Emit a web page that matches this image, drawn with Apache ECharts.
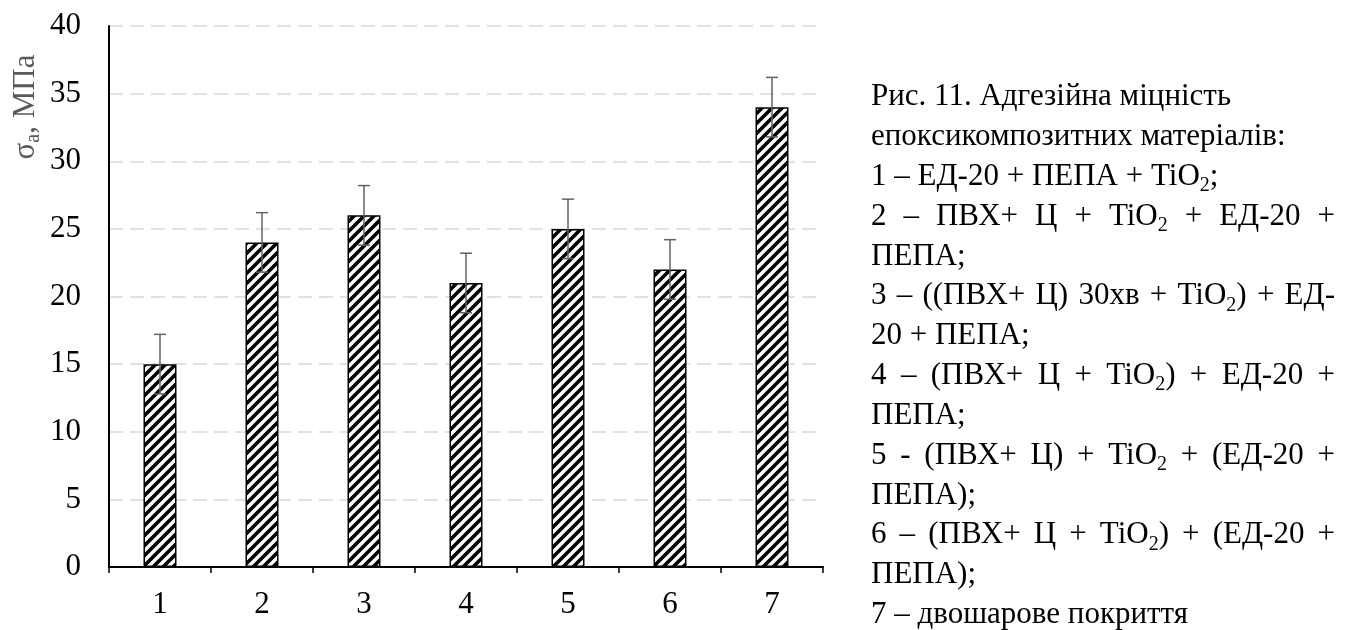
<!DOCTYPE html>
<html>
<head>
<meta charset="utf-8">
<script src="https://cdn.jsdelivr.net/npm/echarts@6/dist/echarts.min.js"></script>
<style>
  html, body { margin: 0; padding: 0; background: #fff; }
  #chart { width: 1350px; height: 630px; }
</style>
</head>
<body>
<div id="chart"></div>
<script>
// data
const categories = ['1', '2', '3', '4', '5', '6', '7'];
const strengthValues = [15, 24, 26, 21, 25, 22, 34];
const errorValues = [2.2, 2.2, 2.2, 2.2, 2.2, 2.2, 2.2];
const yMin = 0;
const yMax = 40;
const yStep = 5;

// caption lines, "_2" marks a subscript, true = justified line
const captionLines = [
    ['Рис. 11. Адгезійна міцність', false],
    ['епоксикомпозитних матеріалів:', false],
    ['1 – ЕД-20 + ПЕПА + TiO_2;', false],
    ['2 – ПВХ+ Ц + TiO_2 + ЕД-20 +', true],
    ['ПЕПА;', false],
    ['3 – ((ПВХ+ Ц) 30хв + TiO_2) + ЕД-', true],
    ['20 + ПЕПА;', false],
    ['4 – (ПВХ+ Ц + TiO_2) + ЕД-20 +', true],
    ['ПЕПА;', false],
    ['5 - (ПВХ+ Ц) + TiO_2 + (ЕД-20 +', true],
    ['ПЕПА);', false],
    ['6 – (ПВХ+ Ц + TiO_2) + (ЕД-20 +', true],
    ['ПЕПА);', false],
    ['7 – двошарове покриття', false]
];

const FONT = '"Liberation Serif", "Times New Roman", serif';

function makeHatch() {
    let c = document.createElement('canvas');
    let s = 10;
    c.width = s;
    c.height = s;
    let g = c.getContext('2d');
    g.fillStyle = '#ffffff';
    g.fillRect(0, 0, s, s);
    g.strokeStyle = '#000000';
    g.lineWidth = 3.6;
    g.beginPath();
    g.moveTo(-2, s + 2); g.lineTo(s + 2, -2);
    g.moveTo(-2, 2); g.lineTo(2, -2);
    g.moveTo(s - 2, s + 2); g.lineTo(s + 2, s - 2);
    g.stroke();
    return c;
}

let measureCtx = document.createElement('canvas').getContext('2d');
function textWidth(t, size) {
    measureCtx.font = size + 'px ' + FONT;
    return measureCtx.measureText(t).width;
}

function splitSegments(word) {
    let parts = word.split(/_(\d)/);
    let segs = [];
    for (let i = 0; i < parts.length; i++) {
        if (parts[i] === '') continue;
        segs.push({ t: parts[i], sub: i % 2 === 1 });
    }
    return segs;
}

function buildCaption() {
    let size = 31;
    let subSize = 20;
    let left = 871;
    let right = 1335;
    let top = 97;
    let gap = 39.85;
    let items = [];
    for (let i = 0; i < captionLines.length; i++) {
        let line = captionLines[i][0];
        let justify = captionLines[i][1];
        let words = line.split(' ').map(splitSegments);
        let widths = words.map(w => w.reduce((acc, s) => acc + textWidth(s.t, s.sub ? subSize : size), 0));
        let total = widths.reduce((a, b) => a + b, 0);
        let space = justify && words.length > 1
            ? (right - left - total) / (words.length - 1)
            : textWidth(' ', size);
        let x = left;
        let y = top + i * gap;
        for (let j = 0; j < words.length; j++) {
            for (let k = 0; k < words[j].length; k++) {
                let seg = words[j][k];
                let fs = seg.sub ? subSize : size;
                items.push({
                    type: 'text',
                    x: x,
                    y: seg.sub ? y + 9 : y,
                    style: {
                        text: seg.t,
                        font: fs + 'px ' + FONT,
                        fill: '#000',
                        verticalAlign: 'middle',
                        align: 'left'
                    }
                });
                x += textWidth(seg.t, fs);
            }
            x += space;
        }
    }
    return items;
}

function buildAxisName() {
    let size = 31;
    let subSize = 20;
    let segs = [
        { t: 'σ', sub: false },
        { t: 'a', sub: true },
        { t: ', МПа', sub: false }
    ];
    let total = segs.reduce((a, s) => a + textWidth(s.t, s.sub ? subSize : size), 0);
    let x = -total / 2;
    let children = [];
    segs.forEach(s => {
        let fs = s.sub ? subSize : size;
        children.push({
            type: 'text',
            x: x,
            y: s.sub ? 8 : 0,
            style: {
                text: s.t,
                font: fs + 'px ' + FONT,
                fill: '#595959',
                verticalAlign: 'middle',
                align: 'left'
            }
        });
        x += textWidth(s.t, fs);
    });
    return {
        type: 'group',
        x: 26,
        y: 107,
        rotation: Math.PI / 2,
        children: children
    };
}

let dom = document.getElementById('chart');
let myChart = echarts.init(dom, null, { renderer: 'canvas' });

let option = {
    animation: false,
    backgroundColor: '#ffffff',
    grid: {
        left: 109,
        right: 527,
        top: 26,
        bottom: 63
    },
    xAxis: {
        type: 'category',
        data: categories,
        axisLine: { lineStyle: { color: '#000', width: 2 } },
        axisTick: { show: true, length: 6, lineStyle: { color: '#000', width: 1.5 } },
        axisLabel: { color: '#000', fontFamily: FONT, fontSize: 31, margin: 22 }
    },
    yAxis: {
        type: 'value',
        min: yMin,
        max: yMax,
        interval: yStep,
        axisLine: { show: true, lineStyle: { color: '#000', width: 2 } },
        axisTick: { show: false },
        axisLabel: { color: '#000', fontFamily: FONT, fontSize: 31, margin: 28 },
        splitLine: {
            show: true,
            lineStyle: { color: '#d9d9d9', width: 1.5, type: [14, 7] }
        }
    },
    series: [
        {
            type: 'bar',
            data: strengthValues,
            barWidth: 33,
            itemStyle: {
                color: { image: makeHatch(), repeat: 'repeat' },
                borderColor: '#000',
                borderWidth: 1.5
            }
        },
        {
            type: 'custom',
            data: strengthValues.map((v, i) => [i, v, errorValues[i]]),
            z: 10,
            renderItem: function (params, api) {
                let idx = api.value(0);
                let v = api.value(1);
                let e = api.value(2);
                let top = api.coord([idx, v + e]);
                let bot = api.coord([idx, v - e]);
                let hw = 6;
                let st = { stroke: '#636363', lineWidth: 1.5 };
                return {
                    type: 'group',
                    children: [
                        { type: 'line', shape: { x1: top[0], y1: top[1], x2: bot[0], y2: bot[1] }, style: st },
                        { type: 'line', shape: { x1: top[0] - hw, y1: top[1], x2: top[0] + hw, y2: top[1] }, style: st },
                        { type: 'line', shape: { x1: bot[0] - hw, y1: bot[1], x2: bot[0] + hw, y2: bot[1] }, style: st }
                    ]
                };
            }
        }
    ],
    graphic: [buildAxisName()].concat(buildCaption())
};

if (option && typeof option === 'object') {
    myChart.setOption(option);
}
window.addEventListener('resize', myChart.resize);
</script>
</body>
</html>
